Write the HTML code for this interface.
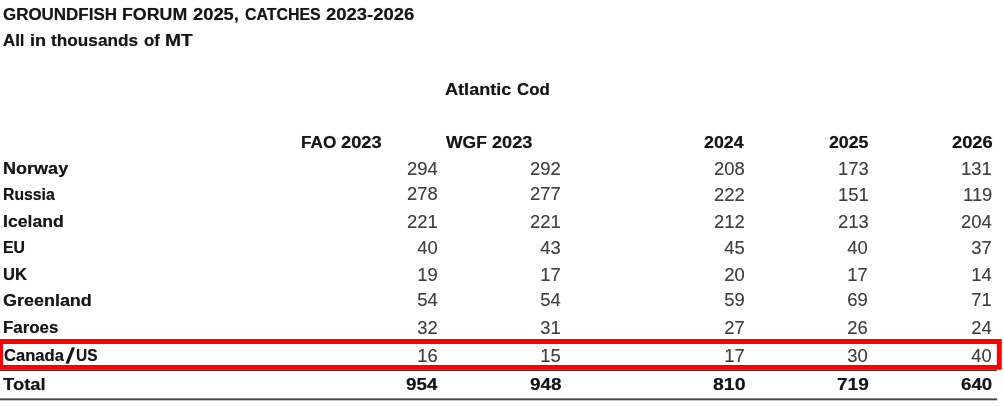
<!DOCTYPE html>
<html lang="en">
<head>
<meta charset="utf-8">
<title>Groundfish Forum 2025 - Atlantic Cod catches</title>
<style>
html,body{margin:0;padding:0;background:#fff;}
body{width:1004px;height:407px;position:relative;overflow:hidden;font-family:"Liberation Sans",sans-serif;}
.t{position:absolute;white-space:nowrap;line-height:20px;}
.b{font-weight:bold;font-size:15.8px;color:#161616;transform-origin:0 50%;text-shadow:0 0 0.7px rgba(22,22,22,.6);}
.n{font-weight:normal;font-size:17.8px;color:#404040;transform:scaleX(1.035);transform-origin:100% 50%;text-shadow:0 0 0.6px rgba(64,64,64,.45);}
.deco{position:absolute;left:0;top:0;}
</style>
</head>
<body>
<svg class="deco" width="1004" height="407" viewBox="0 0 1004 407">
<rect x="0" y="369.6" width="996.9" height="1.5" fill="#3a3a3a"/>
<rect x="0" y="398.4" width="997.2" height="1.9" fill="#444"/>
<path fill="#fe0000" fill-rule="evenodd" d="M0 339.1H1001.3Q1001.8 339.1 1001.8 339.6V369.2Q1001.8 369.7 1001.3 369.7H0ZM3 343.9V364.9H996.8V343.9Z"/>
</svg>
<span class="t b" style="left:3.17px;top:5px;transform:scaleX(1.0728)">GROUNDFISH</span>
<span class="t b" style="left:122.39px;top:5px;transform:scaleX(1.1262)">FORUM</span>
<span class="t b" style="left:193.43px;top:5px;transform:scaleX(1.1598)">2025,</span>
<span class="t b" style="left:244.50px;top:5px;transform:scaleX(1.0069)">CATCHES</span>
<span class="t b" style="left:325.72px;top:5px;transform:scaleX(1.1678)">2023-2026</span>
<span class="t b" style="left:3.24px;top:31px;transform:scaleX(1.0679)">All</span>
<span class="t b" style="left:29.78px;top:31px;transform:scaleX(1.1392)">in</span>
<span class="t b" style="left:51.00px;top:31px;transform:scaleX(1.0904)">thousands</span>
<span class="t b" style="left:143.68px;top:31px;transform:scaleX(1.0625)">of</span>
<span class="t b" style="left:164.80px;top:31px;transform:scaleX(1.2201)">MT</span>
<span class="t b" style="left:445.22px;top:80px;transform:scaleX(1.1466)">Atlantic</span>
<span class="t b" style="left:516.57px;top:80px;transform:scaleX(1.0648)">Cod</span>
<span class="t b" style="left:300.73px;top:133px;transform:scaleX(1.0885)">FAO</span>
<span class="t b" style="left:340.93px;top:133px;transform:scaleX(1.1558)">2023</span>
<span class="t b" style="left:445.90px;top:133px;transform:scaleX(1.1091)">WGF</span>
<span class="t b" style="left:491.53px;top:133px;transform:scaleX(1.1500)">2023</span>
<span class="t b" style="left:704.14px;top:133px;transform:scaleX(1.1250)">2024</span>
<span class="t b" style="left:828.65px;top:133px;transform:scaleX(1.1237)">2025</span>
<span class="t b" style="left:951.53px;top:133px;transform:scaleX(1.1587)">2026</span>
<span class="t b" style="left:3.17px;top:159px;transform:scaleX(1.1426)">Norway</span>
<span class="t n" style="right:566.30px;top:159px">294</span>
<span class="t n" style="right:443.20px;top:159px">292</span>
<span class="t n" style="right:259.70px;top:159px">208</span>
<span class="t n" style="right:135.80px;top:159px">173</span>
<span class="t n" style="right:11.90px;top:159px">131</span>
<span class="t b" style="left:3.31px;top:185px;transform:scaleX(0.9995)">Russia</span>
<span class="t n" style="right:566.30px;top:184px">278</span>
<span class="t n" style="right:443.20px;top:184px">277</span>
<span class="t n" style="right:259.70px;top:185px">222</span>
<span class="t n" style="right:135.80px;top:185px">151</span>
<span class="t n" style="right:11.90px;top:185px">119</span>
<span class="t b" style="left:3.20px;top:212px;transform:scaleX(1.1154)">Iceland</span>
<span class="t n" style="right:566.30px;top:212px">221</span>
<span class="t n" style="right:443.20px;top:212px">221</span>
<span class="t n" style="right:259.70px;top:212px">212</span>
<span class="t n" style="right:135.80px;top:212px">213</span>
<span class="t n" style="right:11.90px;top:212px">204</span>
<span class="t b" style="left:3.31px;top:238px;transform:scaleX(1.0017)">EU</span>
<span class="t n" style="right:566.30px;top:238px">40</span>
<span class="t n" style="right:443.20px;top:238px">43</span>
<span class="t n" style="right:259.70px;top:238px">45</span>
<span class="t n" style="right:135.80px;top:238px">40</span>
<span class="t n" style="right:11.90px;top:238px">37</span>
<span class="t b" style="left:2.62px;top:265px;transform:scaleX(1.0488)">UK</span>
<span class="t n" style="right:566.30px;top:265px">19</span>
<span class="t n" style="right:443.20px;top:265px">17</span>
<span class="t n" style="right:259.70px;top:265px">20</span>
<span class="t n" style="right:135.80px;top:265px">17</span>
<span class="t n" style="right:11.90px;top:265px">14</span>
<span class="t b" style="left:3.14px;top:291px;transform:scaleX(1.1365)">Greenland</span>
<span class="t n" style="right:566.30px;top:290px">54</span>
<span class="t n" style="right:443.20px;top:290px">54</span>
<span class="t n" style="right:259.70px;top:290px">59</span>
<span class="t n" style="right:135.80px;top:290px">69</span>
<span class="t n" style="right:11.90px;top:290px">71</span>
<span class="t b" style="left:3.25px;top:318px;transform:scaleX(1.0680)">Faroes</span>
<span class="t n" style="right:566.30px;top:318px">32</span>
<span class="t n" style="right:443.20px;top:318px">31</span>
<span class="t n" style="right:259.70px;top:318px">27</span>
<span class="t n" style="right:135.80px;top:318px">26</span>
<span class="t n" style="right:11.90px;top:318px">24</span>
<span class="t b" style="left:4.08px;top:346px;transform:scaleX(1.0497)">Canada</span>
<span class="t b" style="font-size:21.5px;left:64.6px;top:346px;transform:skewX(-9deg) scaleX(1.2);transform-origin:0 100%">/</span>
<span class="t b" style="left:75.98px;top:346px;transform:scaleX(0.9764)">US</span>
<span class="t n" style="right:566.30px;top:346px">16</span>
<span class="t n" style="right:443.20px;top:346px">15</span>
<span class="t n" style="right:259.70px;top:346px">17</span>
<span class="t n" style="right:135.80px;top:346px">30</span>
<span class="t n" style="right:11.90px;top:346px">40</span>
<span class="t b" style="left:3.40px;top:375px;transform:scaleX(1.1674)">Total</span>
<span class="t b" style="left:406.11px;top:375px;transform:scaleX(1.1899)">954</span>
<span class="t b" style="left:530.21px;top:375px;transform:scaleX(1.1934)">948</span>
<span class="t b" style="left:713.39px;top:375px;transform:scaleX(1.2328)">810</span>
<span class="t b" style="left:837.30px;top:375px;transform:scaleX(1.2091)">719</span>
<span class="t b" style="left:961.31px;top:375px;transform:scaleX(1.1852)">640</span>
</body>
</html>
